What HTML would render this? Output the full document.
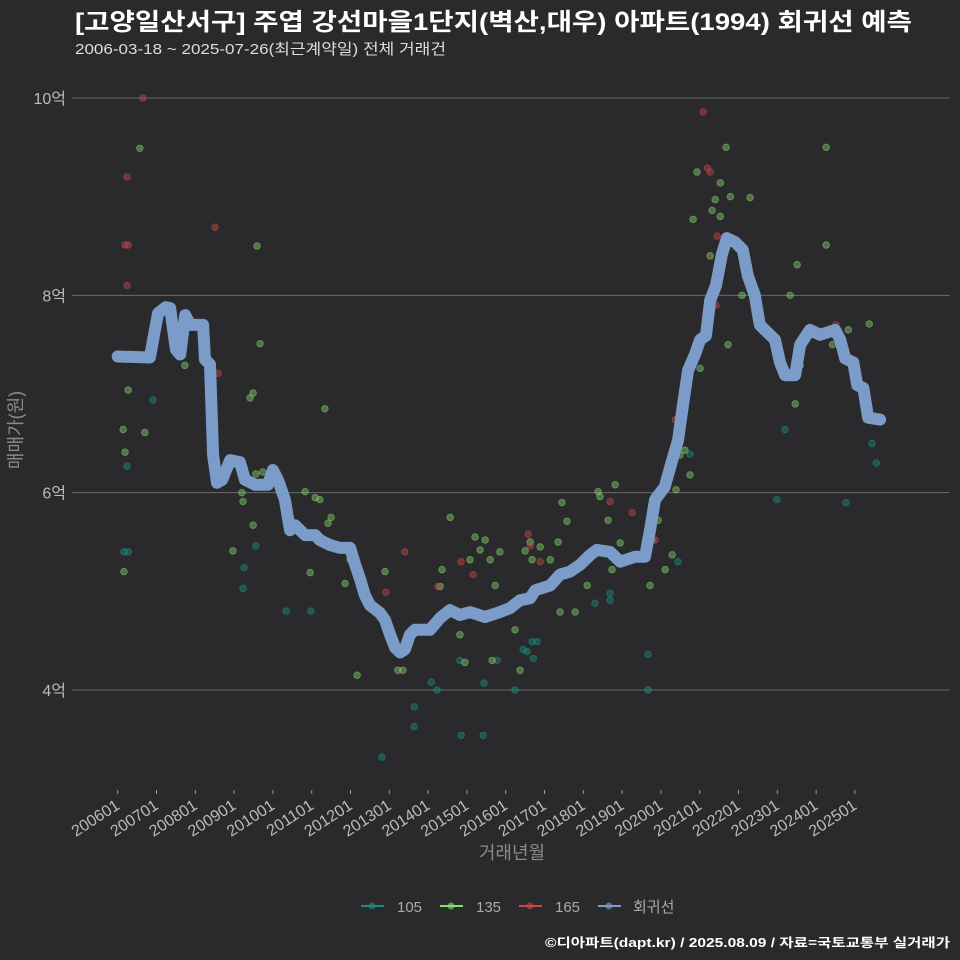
<!DOCTYPE html>
<html><head><meta charset="utf-8"><style>
html,body{margin:0;padding:0;background:#2a2a2c;}
svg{display:block;font-family:"Liberation Sans","Noto Sans CJK KR",sans-serif;}
</style></head><body>
<svg id="chart" width="960" height="960" viewBox="0 0 960 960" xmlns="http://www.w3.org/2000/svg">
<rect width="960" height="960" fill="#2a2a2c"/>
<text x="75" y="30" fill="#ffffff" font-size="24" font-weight="bold" textLength="837" lengthAdjust="spacingAndGlyphs">[고양일산서구] 주엽 강선마을1단지(벽산,대우) 아파트(1994) 회귀선 예측</text>
<text x="75" y="54" fill="#dddddd" font-size="15" textLength="371" lengthAdjust="spacingAndGlyphs">2006-03-18 ~ 2025-07-26(최근계약일) 전체 거래건</text>
<g id="grid"></g>
<g id="yticks"></g>
<g id="xticks"></g>
<g id="points"></g>
<path id="reg" fill="none" stroke="#7b9bc9" stroke-width="12" stroke-linejoin="round" stroke-linecap="round"/>
<text x="0" y="0" transform="translate(22,430) rotate(-90)" text-anchor="middle" fill="#8a8a8a" font-size="18">매매가(원)</text>
<text x="512" y="859" text-anchor="middle" fill="#8a8a8a" font-size="18">거래년월</text>
<g font-size="15" fill="#aaaaaa">
 <g><line x1="361" y1="906" x2="384" y2="906" stroke="#1f8a82" stroke-width="2"/><circle cx="372" cy="906" r="3.5" fill="#1f8a82" opacity="0.6"/><text x="397" y="912">105</text></g>
 <g><line x1="440" y1="906" x2="463" y2="906" stroke="#86e070" stroke-width="2"/><circle cx="451" cy="906" r="3.5" fill="#86e070" opacity="0.6"/><text x="476" y="912">135</text></g>
 <g><line x1="519" y1="906" x2="542" y2="906" stroke="#c84848" stroke-width="2"/><circle cx="530" cy="906" r="3.5" fill="#c84848" opacity="0.6"/><text x="555" y="912">165</text></g>
 <g><line x1="598" y1="906" x2="621" y2="906" stroke="#7b9bc9" stroke-width="2"/><circle cx="609" cy="906" r="3.5" fill="#7b9bc9" opacity="0.6"/><text x="633" y="912">회귀선</text></g>
</g>
<text x="950" y="947" text-anchor="end" fill="#ffffff" font-size="12.5" font-weight="bold" textLength="405" lengthAdjust="spacingAndGlyphs">©디아파트(dapt.kr) / 2025.08.09 / 자료=국토교통부 실거래가</text>
</svg>
<script>
const yTicks=[4,6,8,10];
const xTickYears=[2006,2007,2008,2009,2010,2011,2012,2013,2014,2015,2016,2017,2018,2019,2020,2021,2022,2023,2024,2025];
const lineYears=[2006.0,2006.83,2006.96,2007.04,2007.24,2007.35,2007.5,2007.61,2007.74,2007.87,2008.2,2008.25,2008.38,2008.46,2008.56,2008.69,2008.9,2009.15,2009.28,2009.54,2009.87,2010.0,2010.13,2010.31,2010.44,2010.57,2010.83,2011.09,2011.21,2011.47,2011.73,2011.99,2012.12,2012.25,2012.37,2012.5,2012.76,2012.89,2013.02,2013.15,2013.28,2013.4,2013.53,2013.66,2014.05,2014.31,2014.56,2014.82,2015.08,2015.47,2015.85,2016.11,2016.37,2016.63,2016.76,2017.15,2017.4,2017.66,2017.92,2018.18,2018.35,2018.69,2018.95,2019.33,2019.59,2019.72,2019.85,2020.1,2020.29,2020.44,2020.57,2020.7,2020.88,2021.01,2021.16,2021.27,2021.42,2021.57,2021.7,2021.91,2022.11,2022.24,2022.42,2022.55,2022.81,2022.94,2023.07,2023.2,2023.46,2023.59,2023.84,2024.1,2024.49,2024.62,2024.75,2024.96,2025.06,2025.22,2025.34,2025.65];
const lineValues=[7.38,7.37,7.65,7.82,7.88,7.87,7.45,7.40,7.80,7.70,7.70,7.35,7.30,6.38,6.10,6.13,6.33,6.31,6.13,6.08,6.08,6.23,6.13,5.93,5.62,5.67,5.57,5.57,5.52,5.47,5.44,5.44,5.27,5.12,4.96,4.86,4.78,4.71,4.56,4.43,4.38,4.41,4.56,4.61,4.61,4.73,4.81,4.76,4.79,4.74,4.79,4.83,4.91,4.93,5.01,5.06,5.17,5.20,5.27,5.37,5.42,5.40,5.30,5.35,5.35,5.62,5.93,6.06,6.33,6.53,6.89,7.24,7.40,7.55,7.59,7.95,8.10,8.41,8.58,8.54,8.46,8.20,8.00,7.70,7.60,7.55,7.32,7.19,7.19,7.50,7.65,7.60,7.65,7.55,7.36,7.32,7.09,7.06,6.76,6.74];
const redYears=[2006.19,2006.27,2006.24,2006.24,2006.65,2008.51,2008.59,2013.4,2012.91,2014.25,2014.85,2015.16,2016.58,2016.63,2016.89,2018.69,2018.69,2019.26,2019.85,2020.37,2021.09,2021.2,2021.27,2021.35,2021.42,2021.45,2024.51];
const redValues=[8.51,8.51,8.10,9.20,10.0,8.69,7.21,5.40,4.99,5.05,5.30,5.17,5.58,5.46,5.30,5.41,5.91,5.80,5.52,6.74,9.86,9.29,9.25,8.00,7.90,8.60,7.70];
const greenYears=[2006.14,2006.19,2006.27,2006.16,2006.57,2006.7,2007.73,2008.97,2009.2,2009.23,2009.41,2009.49,2009.49,2009.59,2009.67,2009.56,2009.74,2010.83,2010.96,2011.09,2011.21,2011.34,2011.42,2011.5,2011.86,2012.17,2011.99,2012.89,2013.22,2013.35,2014.31,2014.36,2014.57,2014.7,2014.82,2014.95,2015.08,2015.21,2015.34,2015.47,2015.6,2015.65,2015.73,2015.85,2016.24,2016.37,2016.5,2016.63,2016.68,2016.89,2017.15,2017.35,2017.4,2017.45,2017.58,2017.79,2018.1,2018.38,2018.43,2018.64,2018.74,2018.82,2018.95,2019.72,2019.77,2019.93,2020.11,2020.29,2020.39,2020.49,2020.62,2020.75,2020.83,2020.93,2021.01,2021.27,2021.32,2021.4,2021.53,2021.53,2021.68,2021.73,2021.79,2022.09,2022.3,2023.33,2023.46,2023.51,2023.59,2024.26,2024.26,2024.42,2024.83,2025.37];
const greenValues=[6.64,6.41,7.04,5.20,9.49,6.61,7.29,5.41,6.0,5.91,6.96,7.01,5.67,8.5,7.51,6.19,6.21,6.01,5.19,5.95,5.93,6.85,5.69,5.75,5.08,4.15,5.32,5.2,4.2,4.2,5.05,5.22,5.75,4.79,4.56,4.28,5.32,5.55,5.42,5.52,5.32,4.3,5.06,5.40,4.61,4.2,5.41,5.5,5.32,5.45,5.32,5.5,4.79,5.9,5.71,4.79,5.06,6.01,5.96,5.72,5.22,6.08,5.49,5.06,5.52,5.72,5.22,5.37,6.03,6.38,6.43,6.18,8.77,9.25,7.26,8.40,8.86,8.97,9.14,8.8,9.5,7.5,9.0,8.0,8.99,8.0,6.90,8.31,7.29,9.5,8.51,7.5,7.65,7.71];
const tealYears=[2006.16,2006.27,2006.24,2006.91,2009.23,2009.26,2009.56,2010.34,2010.98,2012.81,2013.64,2013.64,2014.08,2014.23,2014.85,2015.42,2015.44,2014.82,2015.78,2016.24,2016.45,2016.55,2016.68,2016.71,2016.81,2018.3,2018.69,2018.69,2019.67,2019.67,2020.44,2020.75,2022.99,2023.2,2024.77,2025.44,2025.55];
const tealValues=[5.40,5.40,6.27,6.94,5.03,5.24,5.46,4.80,4.80,3.32,3.63,3.83,4.08,4.0,3.54,3.54,4.07,4.30,4.30,4.0,4.41,4.39,4.49,4.32,4.49,4.88,4.98,4.91,4.0,4.36,5.30,6.39,5.93,6.64,5.90,6.50,6.30];

const NS='http://www.w3.org/2000/svg';
function xs(yr){return 117.7+(yr-2006)*38.8;}
function ys(v){return 690-(v-4)*98.67;}
function mk(tag,attrs,parent){const e=document.createElementNS(NS,tag);for(const k in attrs)e.setAttribute(k,attrs[k]);parent.appendChild(e);return e;}
const grid=document.getElementById('grid'),yg=document.getElementById('yticks'),xg=document.getElementById('xticks'),pg=document.getElementById('points');
yTicks.forEach(v=>{
 const l=mk('line',{x1:72,x2:950,y1:ys(v),y2:ys(v),stroke:'#6a6a6a','stroke-width':1},grid);
 
 
 const t=mk('text',{x:66,y:ys(v)+6,'text-anchor':'end',fill:'#bbbbbb','font-size':16},yg);
 t.textContent=v+'억';
 
 
});
xTickYears.forEach(y=>{
 const x=xs(y);
 const tk=mk('line',{x1:x,x2:x,y1:790,y2:794,stroke:'#999','stroke-width':1},xg);
 
 
 const t=mk('text',{x:x+3,y:808,'text-anchor':'end',fill:'#bbbbbb','font-size':16,transform:'rotate(-33 '+(x+3)+' 808)'},xg);
 t.textContent=y+'01';
 
 
});
function drawPts(yrs,vals,color,name){
 yrs.forEach((yr,i)=>{
  const c=mk('circle',{cx:xs(yr),cy:ys(vals[i]),r:3.3,fill:color,'fill-opacity':0.45,stroke:color,'stroke-opacity':0.6,'stroke-width':0.8},pg);
  
  
 });
}
drawPts(tealYears,tealValues,'#1f8a82','point-105');
drawPts(greenYears,greenValues,'#7fce68','point-135');
drawPts(redYears,redValues,'#c04646','point-165');
document.getElementById('reg').setAttribute('d',lineYears.map((yr,i)=>(i?'L':'M')+xs(yr).toFixed(1)+' '+ys(lineValues[i]).toFixed(1)).join(' '));
</script>
</body></html>
